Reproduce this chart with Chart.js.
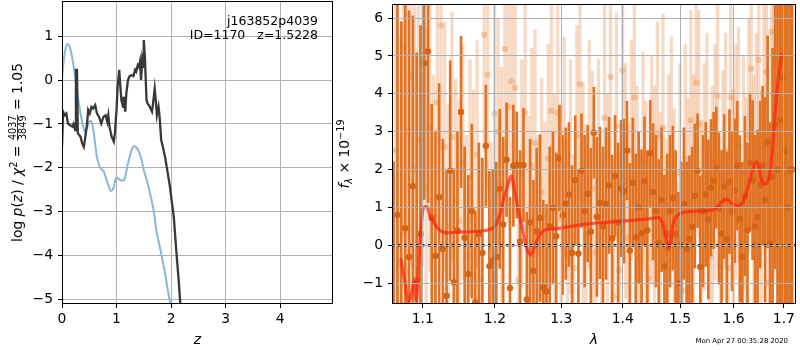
<!DOCTYPE html>
<html><head><meta charset="utf-8">
<script src="https://cdn.jsdelivr.net/npm/chart.js@4.4.1/dist/chart.umd.min.js"></script>
<style>
html,body{margin:0;padding:0;background:#fff;width:800px;height:350px;overflow:hidden}
#left{position:absolute;left:0;top:0}
#right{position:absolute;left:335px;top:0}
</style></head>
<body>
<canvas id="left" width="335" height="350"></canvas>
<canvas id="right" width="465" height="350"></canvas>
<script>
// ---------- Left panel data: log p(z) ----------
const Z_BLACK = [0.00,0.02,0.05,0.08,0.11,0.15,0.19,0.21,0.24,0.255,0.275,0.29,0.34,0.37,0.40,0.42,0.46,0.48,0.51,0.54,0.57,0.61,0.64,0.68,0.72,0.76,0.80,0.83,0.85,0.87,0.91,0.95,0.97,1.00,1.02,1.05,1.07,1.09,1.12,1.13,1.16,1.18,1.21,1.24,1.28,1.31,1.34,1.36,1.39,1.41,1.43,1.45,1.47,1.49,1.50,1.52,1.55,1.57,1.61,1.65,1.67,1.70,1.72,1.74,1.77,1.79,1.82,1.85,1.89,1.93,1.98,2.01,2.05,2.10,2.14,2.17,2.21];
const LOGP_BLACK = [-1.52,-0.72,-0.80,-0.76,-0.99,-1.03,-1.06,-1.00,-1.14,0.23,0.23,-1.21,-1.29,-1.44,-1.52,-1.37,-0.99,-0.68,-0.76,-0.61,-0.65,-0.57,-0.76,-0.84,-0.99,-0.84,-0.80,-0.95,-0.80,-1.06,-1.29,-1.40,-1.21,-0.68,-0.15,0.23,-0.15,-0.46,-0.61,-0.38,-0.72,-0.30,0.00,0.09,0.11,0.09,0.23,0.19,0.34,0.30,0.42,0.00,0.46,0.30,0.91,0.53,-0.46,-0.53,-0.61,-0.72,-0.53,-0.19,-0.46,-0.80,-0.61,-0.84,-1.37,-1.52,-1.75,-2.05,-2.43,-2.73,-3.11,-3.95,-4.56,-5.10,-5.90];
const Z_BLUE = [0.00,0.02,0.06,0.10,0.14,0.19,0.24,0.29,0.34,0.39,0.42,0.46,0.50,0.53,0.56,0.60,0.64,0.68,0.72,0.76,0.81,0.86,0.90,0.94,0.97,1.00,1.03,1.07,1.12,1.16,1.19,1.24,1.28,1.32,1.36,1.41,1.46,1.50,1.57,1.63,1.69,1.73,1.78,1.83,1.88,1.93,1.98,2.01];
const LOGP_BLUE = [0.00,0.30,0.68,0.82,0.76,0.49,0.08,-0.38,-0.76,-1.06,-1.18,-1.10,-0.95,-0.93,-1.03,-1.37,-1.75,-1.94,-2.03,-2.07,-2.24,-2.43,-2.53,-2.47,-2.32,-2.22,-2.24,-2.28,-2.29,-2.20,-2.01,-1.75,-1.58,-1.50,-1.53,-1.63,-1.82,-2.05,-2.35,-2.66,-3.04,-3.42,-3.72,-4.02,-4.33,-4.71,-5.05,-5.30];
const Z_TICKS_STEP = 1;

// ---------- Right panel data: spectrum ----------
const DARK_LAM = [1.062,1.067,1.072,1.077,1.082,1.087,1.092,1.097,1.102,1.107,
1.112,1.117,1.122,1.127,1.132,1.137,1.142,1.147,1.152,1.157,
1.162,1.167,1.172,1.177,1.182,1.187,1.192,1.197,1.202,1.207,
1.212,1.217,1.222,1.227,1.232,1.237,1.242,1.247,1.252,1.257,
1.262,1.267,1.272,1.277,1.282,1.287,1.292,1.297,1.302,1.307,
1.312,1.317,1.322,1.327,1.332,1.337,1.342,1.347,1.352,1.357,
1.362,1.367,1.372,1.377,1.382,1.387,1.392,1.397,1.402,1.407,
1.412,1.417,1.422,1.427,1.432,1.437,1.442,1.447,1.452,1.457,
1.462,1.467,1.472,1.477,1.482,1.487,1.492,1.497,1.502,1.507,
1.512,1.517,1.522,1.527,1.532,1.537,1.542,1.547,1.552,1.557,
1.562,1.567,1.572,1.577,1.582,1.587,1.592,1.597,1.602,1.607,
1.612,1.617,1.622,1.627,1.632,1.637,1.642,1.647,1.652,1.657,
1.662,1.667,1.672,1.677,1.682,1.687,1.692,1.697,1.702,1.707,
1.712,1.717];
const DARK_FLUX = [-2.5,0.8,-1.6,0.45,-0.31,1.56,-0.92,0.3,4.81,5.12,
0.72,-0.28,1.27,-0.1,-1.33,1.97,-0.98,0.4,3.52,0.2,
-0.76,0.9,-1.5,0.3,-0.2,2.63,-0.55,-0.41,-0.31,1.49,
0.55,2.26,-1.13,2.1,2.12,0.1,2.12,-1.43,0.6,-0.68,
0.37,0.72,-1.11,-1.22,0.5,0.98,0.24,2.3,0.8,1.1,
1.34,-0.2,1.72,-0.22,1.97,0.9,1.36,0.36,2.97,0.75,
1.12,0.5,1.1,1.58,0.18,1.83,0.6,1.5,1.43,2.5,
-0.14,1.66,0.21,1.0,0.32,1.69,0.4,2.43,1.41,0.9,
0.06,1.2,-0.55,0.3,0.9,1.25,0.3,-1.0,0.0,1.1,
-0.1,0.16,0.49,1.3,1.97,-0.57,0.9,1.34,0.68,1.52,
1.71,2.05,0.97,0.3,1.55,0.16,1.68,0.9,1.44,2.1,
0.7,-0.31,1.3,0.4,2.18,1.72,0.5,0.74,1.6,2.1,
1.2,2.73,0.05,1.8,3.18,2.0,3.3,4.43,2.5,1.0,
1.98,2.0];
const DARK_ERR = [4.7,7.0,7.5,6.0,6.5,4.5,6.0,5.5,3.6,4.0,
3.0,3.3,3.0,2.9,3.3,2.9,3.0,2.6,2.0,2.4,
2.6,2.3,2.4,2.4,2.5,1.6,2.5,2.4,2.5,2.1,
2.3,1.5,2.4,1.6,1.4,2.4,1.5,2.3,2.2,2.4,
2.2,2.2,2.3,2.3,2.1,2.0,2.2,1.4,2.1,2.0,
1.9,2.3,1.7,2.2,1.5,2.0,1.8,2.2,1.2,2.1,
2.0,2.1,2.0,1.8,2.2,1.6,2.1,1.8,1.9,1.3,
2.3,1.7,2.2,2.0,2.2,1.7,2.1,1.4,1.8,2.0,
2.2,1.9,2.4,2.1,2.0,1.9,2.2,2.4,2.2,2.0,
2.3,2.2,2.1,1.9,1.5,2.4,2.0,1.9,2.1,1.8,
1.8,1.6,2.0,2.2,1.9,2.3,1.9,2.1,1.9,1.7,
2.2,2.5,2.1,2.3,1.8,2.1,2.4,2.3,2.2,2.1,
2.7,2.8,3.2,3.4,3.8,5.0,6.0,6.5,7.0,8.0,
8.0,8.0];

const LIGHT_LAM = [1.0645,1.0695,1.0745,1.0795,1.0845,1.0895,1.0945,1.0995,1.1045,1.1095,
1.1145,1.1195,1.1245,1.1295,1.1345,1.1395,1.1445,1.1495,1.1545,1.1595,
1.1645,1.1695,1.1745,1.1795,1.1845,1.1895,1.1945,1.1995,1.2045,1.2095,
1.2145,1.2195,1.2245,1.2295,1.2345,1.2395,1.2445,1.2495,1.2545,1.2595,
1.2645,1.2695,1.2745,1.2795,1.2845,1.2895,1.2945,1.2995,1.3045,1.3095,
1.3145,1.3195,1.3245,1.3295,1.3345,1.3395,1.3445,1.3495,1.3545,1.3595,
1.3645,1.3695,1.3745,1.3795,1.3845,1.3895,1.3945,1.3995,1.4045,1.4095,
1.4145,1.4195,1.4245,1.4295,1.4345,1.4395,1.4445,1.4495,1.4545,1.4595,
1.4645,1.4695,1.4745,1.4795,1.4845,1.4895,1.4945,1.4995,1.5045,1.5095,
1.5145,1.5195,1.5245,1.5295,1.5345,1.5395,1.5445,1.5495,1.5545,1.5595,
1.5645,1.5695,1.5745,1.5795,1.5845,1.5895,1.5945,1.5995,1.6045,1.6095,
1.6145,1.6195,1.6245,1.6295,1.6345,1.6395,1.6445,1.6495,1.6545,1.6595,
1.6645,1.6695,1.6745,1.6795,1.6845,1.6895,1.6945,1.6995,1.7045,1.7095];
const LIGHT_FLUX = [2.5,-0.5,5.19,3.0,4.47,2.0,2.78,3.95,1.5,3.09,
0.9,3.77,5.8,2.6,0.5,2.86,1.2,0.64,2.2,-0.3,
1.8,0.9,2.4,-0.9,5.56,4.5,-0.48,3.47,3.0,1.6,
5.18,3.66,4.33,4.16,-0.92,1.9,3.5,0.4,2.1,2.7,
-0.2,1.4,0.15,2.3,3.55,1.0,3.5,0.7,2.6,-0.3,
1.8,-0.6,2.9,4.25,1.2,0.3,2.4,1.5,-0.2,2.0,
-0.8,3.37,1.0,4.45,-1.35,3.14,-0.65,4.62,1.7,0.2,
2.5,3.9,1.1,-0.4,2.2,0.8,-0.88,2.0,1.3,2.9,
0.4,3.1,-0.1,1.5,2.4,0.6,-1.35,1.9,-1.2,2.3,
0.9,3.3,1.4,4.3,3.2,0.2,1.8,2.6,-0.3,1.2,
2.2,3.95,-0.55,1.6,2.5,-0.6,3.9,1.0,2.2,2.65,
-0.9,1.9,0.7,2.9,4.66,1.3,2.4,4.9,0.8,3.4,
4.58,-1.0,5.63,2.7,4.37,1.5,3.8,4.37,2.0,3.0];
const LIGHT_ERR = [6,6,5,5,5,5,4.5,4.5,4.2,3.8,
3.6,3.4,3.3,3.3,3.2,3.3,3.2,3.2,3.1,3.2,
3.1,3.2,3.0,3.2,3.1,3.0,3.2,3.1,3.0,3.1,
3.0,3.1,2.9,3.0,3.2,3.0,3.1,3.0,3.1,3.0,
3.1,3.0,3.1,3.0,2.9,3.0,3.1,3.0,2.9,3.1,
3.1,3.0,2.9,3.0,3.1,2.9,3.0,3.1,3.0,2.9,
3.0,3.1,3.0,2.9,3.1,3.0,3.0,2.9,3.1,3.0,
2.9,3.0,3.1,3.0,2.9,3.0,3.1,3.0,2.9,3.0,
3.1,3.0,2.9,3.0,3.1,3.0,3.0,2.9,3.1,3.0,
3.0,2.9,3.1,3.0,3.0,3.1,3.0,3.0,3.1,3.0,
3.1,3.0,3.1,3.0,3.1,3.1,3.0,3.1,3.1,3.1,
3.1,3.1,3.2,3.1,3.1,3.2,3.2,3.2,3.3,3.3,
3.4,3.5,3.6,3.7,4.0,4.5,5.0,5.5,6.0,6.5];

const MODEL_LAM = [1.0713,1.0770,1.0813,1.0858,1.0888,1.0915,1.0945,1.0977,1.1011,1.1056,1.1097,1.1127,1.1163,1.1229,1.1318,1.1458,1.1737,1.1926,1.2008,1.2070,1.2128,1.2191,1.2240,1.2289,1.2338,1.2403,1.2463,1.2527,1.2572,1.2638,1.2714,1.2843,1.3023,1.3339,1.3828,1.4394,1.4596,1.4665,1.4714,1.4755,1.4789,1.4833,1.4874,1.4933,1.5041,1.5285,1.5592,1.5718,1.5780,1.5876,1.5971,1.6067,1.6164,1.6261,1.6359,1.6438,1.6491,1.6545,1.6624,1.6705,1.6757,1.6825,1.6892,1.6959];
const MODEL_FLUX = [-0.34,-1.02,-1.51,-1.2,-0.94,-1.46,-0.5,0.46,1.0,1.03,0.77,0.68,0.55,0.39,0.33,0.34,0.37,0.42,0.52,0.80,1.23,1.60,1.83,1.45,0.96,0.44,-0.04,-0.26,-0.10,0.18,0.37,0.43,0.46,0.55,0.62,0.69,0.73,0.66,0.44,0.13,-0.10,0.13,0.55,0.75,0.86,0.90,0.93,1.05,1.16,1.21,1.10,1.05,1.10,1.45,1.93,2.20,2.10,1.75,1.62,1.84,2.36,3.58,4.46,5.07];

const ZERO_LAM = [1.06, 1.725];
const ZERO_FLUX = [0, 0];
const LAM_TICKS = [1.1,1.2,1.3,1.4,1.5,1.6,1.7];

// ---------- styling helpers ----------
const FAM = "'DejaVu Sans', sans-serif";
const TICKFONT = {family: FAM, size: 13.9};
const GRID = '#b0b0b0';
const minus = v => String(v).replace('-', '\u2212');
const noPadY = s => { s.paddingTop = 0; s.paddingBottom = 0; };
const noPadX = s => { s.paddingLeft = 0; s.paddingRight = 0; };

const boxPlugin = {
  id: 'box',
  afterDraw(chart) {
    const {ctx, chartArea: a} = chart;
    ctx.save();
    ctx.strokeStyle = '#000'; ctx.lineWidth = 1;
    ctx.strokeRect(Math.round(a.left) + 0.5, Math.round(a.top) + 0.5, Math.round(a.right - a.left) - 1, Math.round(a.bottom - a.top) - 1);
    ctx.restore();
  }
};

function drawRich(ctx, segs, cx, cy) {
  let W = 0;
  for (const s of segs) {
    ctx.font = s.font;
    if (s.frac) { s.w = Math.max(ctx.measureText(s.frac[0]).width, ctx.measureText(s.frac[1]).width) + 2; }
    else s.w = ctx.measureText(s.text).width;
    W += s.w;
  }
  ctx.save();
  ctx.translate(cx, cy);
  ctx.rotate(-Math.PI / 2);
  ctx.fillStyle = '#000';
  ctx.textBaseline = 'alphabetic';
  let x = -W / 2;
  const base = 5;
  for (const s of segs) {
    ctx.font = s.font;
    if (s.frac) {
      const bar = base - 4.5;
      ctx.textAlign = 'center';
      ctx.fillText(s.frac[0], x + s.w / 2, bar - 1.5);
      ctx.fillText(s.frac[1], x + s.w / 2, bar + 8.5);
      ctx.fillRect(x + 0.5, bar - 0.4, s.w - 1, 0.8);
      ctx.textAlign = 'left';
    } else {
      ctx.textAlign = 'left';
      ctx.fillText(s.text, x, base + (s.dy || 0));
    }
    x += s.w;
  }
  ctx.restore();
}

const N = "13.9px " + FAM, I = "italic 13.9px " + FAM, S = "9.7px " + FAM, SI = "italic 9.7px " + FAM;

const leftText = {
  id: 'leftText',
  afterDraw(chart) {
    const ctx = chart.ctx;
    const a = chart.chartArea;
    drawRich(ctx, [
      {text: 'log ', font: N}, {text: 'p', font: I}, {text: '(', font: N}, {text: 'z', font: I},
      {text: ') / ', font: N}, {text: '\u03c7', font: I}, {text: '2', font: S, dy: -5},
      {text: ' = ', font: N}, {frac: ['4037', '3849'], font: S}, {text: ' = 1.05', font: N}
    ], 17, (a.top + a.bottom) / 2);
    ctx.save();
    ctx.font = "12.5px " + FAM; ctx.fillStyle = '#000'; ctx.textAlign = 'right'; ctx.textBaseline = 'alphabetic';
    ctx.fillText('j163852p4039', 318, 25);
    ctx.fillText('ID=1170   z=1.5228', 318, 39.3);
    ctx.restore();
  }
};

const rightText = {
  id: 'rightText',
  afterDraw(chart) {
    const ctx = chart.ctx;
    const a = chart.chartArea;
    drawRich(ctx, [
      {text: 'f', font: I}, {text: '\u03bb', font: SI, dy: 3},
      {text: ' \u00d7 10', font: N}, {text: '\u221219', font: S, dy: -5}
    ], 9, (a.top + a.bottom) / 2);
    ctx.save();
    ctx.font = "6.9px " + FAM; ctx.fillStyle = '#000'; ctx.textAlign = 'right'; ctx.textBaseline = 'alphabetic';
    ctx.fillText('Mon Apr 27 00:35:28 2020', 453, 342.5);
    ctx.restore();
  }
};

// ---------- Left chart ----------
new Chart(document.getElementById('left'), {
  type: 'scatter',
  data: {datasets: [
    {type: 'line', data: Z_BLACK.map((z, i) => ({x: z, y: LOGP_BLACK[i]})), borderColor: '#383838', borderWidth: 2.3, pointRadius: 0, tension: 0},
    {type: 'line', data: Z_BLUE.map((z, i) => ({x: z, y: LOGP_BLUE[i]})), borderColor: '#88b7da', borderWidth: 2, pointRadius: 0, cubicInterpolationMode: 'monotone'}
  ]},
  options: {
    responsive: false, animation: false, devicePixelRatio: 1,
    layout: {padding: {left: 0, right: 2, top: 1, bottom: 0}},
    plugins: {legend: {display: false}, tooltip: {enabled: false}},
    scales: {
      x: {type: 'linear', min: 0, max: 4.97,
        ticks: {stepSize: Z_TICKS_STEP, includeBounds: false, font: TICKFONT, color: '#000', padding: 3, maxRotation: 0, callback: v => minus(v)},
        grid: {color: GRID, tickColor: '#000', tickLength: 4, lineWidth: 1},
        border: {display: false},
        title: {display: true, text: 'z', color: '#000', font: {family: FAM, size: 14, style: 'italic'}, padding: {top: 0, bottom: 1}},
        afterFit(s) { s.height = 46; noPadX(s); }},
      y: {type: 'linear', min: -5.1, max: 1.8,
        ticks: {stepSize: 1, includeBounds: false, font: TICKFONT, color: '#000', padding: 5, callback: v => minus(v)},
        grid: {color: GRID, tickColor: '#000', tickLength: 4, lineWidth: 1},
        border: {display: false},
        afterFit(s) { s.width = 62; noPadY(s); }}
    }
  },
  plugins: [boxPlugin, leftText]
});

// ---------- Right chart ----------
new Chart(document.getElementById('right'), {
  type: 'scatter',
  data: {datasets: [
    {type: 'line', data: ZERO_LAM.map((l, i) => ({x: l, y: ZERO_FLUX[i]})), borderColor: '#000', borderWidth: 2.4, borderDash: [2.4, 3.6], pointRadius: 0},
    {type: 'line', data: MODEL_LAM.map((l, i) => ({x: l, y: MODEL_FLUX[i]})), borderColor: 'rgba(255,35,15,0.72)', borderWidth: 3.2, pointRadius: 0, cubicInterpolationMode: 'monotone'},
    {type: 'scatter', data: DARK_LAM.map((l, i) => ({x: l, y: DARK_FLUX[i]})), backgroundColor: 'rgb(214,100,22)', borderWidth: 0, pointRadius: 3.2},
    {type: 'bar', data: DARK_LAM.map((l, i) => ({x: l, y: [DARK_FLUX[i] - DARK_ERR[i], DARK_FLUX[i] + DARK_ERR[i]]})), backgroundColor: 'rgb(224,114,36)', borderWidth: 0, barThickness: 2, grouped: false},
    {type: 'scatter', data: LIGHT_LAM.map((l, i) => ({x: l, y: LIGHT_FLUX[i]})), backgroundColor: 'rgba(232,140,70,0.38)', borderWidth: 0, pointRadius: 3.2},
    {type: 'bar', data: LIGHT_LAM.map((l, i) => ({x: l, y: [LIGHT_FLUX[i] - LIGHT_ERR[i], LIGHT_FLUX[i] + LIGHT_ERR[i]]})), backgroundColor: 'rgba(236,150,90,0.36)', borderWidth: 0, barThickness: 2.6, grouped: false}
  ]},
  options: {
    responsive: false, animation: false, devicePixelRatio: 1,
    layout: {padding: {left: 0, right: 3, top: 1, bottom: 0}},
    plugins: {legend: {display: false}, tooltip: {enabled: false}},
    scales: {
      x: {type: 'logarithmic', min: 1.06, max: 1.725, offset: false,
        afterBuildTicks(s) { s.ticks = LAM_TICKS.map(v => ({value: v})); },
        ticks: {font: TICKFONT, color: '#000', padding: 3, autoSkip: false, maxRotation: 0, callback: v => Number(v).toFixed(1)},
        grid: {color: GRID, tickColor: '#000', tickLength: 4, lineWidth: 1, z: 1, offset: false},
        border: {display: false},
        title: {display: true, text: '\u03bb', color: '#000', font: {family: FAM, size: 14, style: 'italic'}, padding: {top: 0, bottom: 1}},
        afterFit(s) { s.height = 46; noPadX(s); }},
      y: {type: 'linear', min: -1.55, max: 6.37,
        ticks: {stepSize: 1, includeBounds: false, font: TICKFONT, color: '#000', padding: 5, callback: v => minus(v)},
        grid: {color: GRID, tickColor: '#000', tickLength: 4, lineWidth: 1, z: 1},
        border: {display: false},
        afterFit(s) { s.width = 57; noPadY(s); }}
    }
  },
  plugins: [boxPlugin, rightText]
});
</script>
</body></html>
